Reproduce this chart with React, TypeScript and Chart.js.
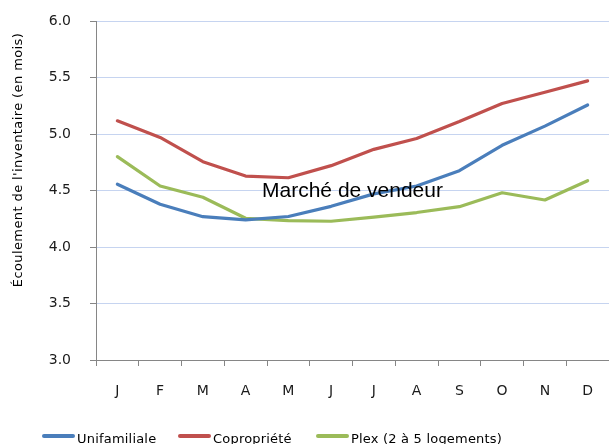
import React, { useEffect, useRef } from "react";
import { Chart, registerables } from "chart.js";

Chart.register(...registerables);

const months = ["J", "F", "M", "A", "M", "J", "J", "A", "S", "O", "N", "D"];
const unifamiliale = [4.555, 4.378, 4.268, 4.24, 4.27, 4.36, 4.47, 4.54, 4.675, 4.9, 5.07, 5.257];
const copropriete = [5.117, 4.97, 4.755, 4.628, 4.613, 4.72, 4.864, 4.96, 5.11, 5.27, 5.37, 5.47];
const plex = [4.8, 4.54, 4.44, 4.254, 4.233, 4.228, 4.265, 4.305, 4.357, 4.48, 4.416, 4.587];
const seriesNames = ["Unifamiliale", "Copropriété", "Plex (2 à 5 logements)"];
const seriesColors = ["#4a7ebb", "#c0504d", "#9bbb59"];
const yTicks = [3.0, 3.5, 4.0, 4.5, 5.0, 5.5, 6.0];
const annotationText = "Marché de vendeur";
const yTitle = "Écoulement de l'inventaire (en mois)";

const overlayPlugin = {
  id: "overlay",
  afterDraw(chart: any) {
    const ctx = chart.ctx as CanvasRenderingContext2D;
    const xs = chart.scales.x;
    const ys = chart.scales.y;
    // annotation
    ctx.save();
    ctx.font = "21px 'Liberation Sans', Arial, sans-serif";
    ctx.fillStyle = "#000";
    ctx.textAlign = "center";
    ctx.textBaseline = "alphabetic";
    ctx.fillText(annotationText, xs.getPixelForValue(5.5), ys.getPixelForValue(4.44));
    ctx.restore();

    // y title
    ctx.save();
    ctx.font = "13px 'DejaVu Sans', sans-serif";
    (ctx as any).letterSpacing = "0.4px";
    ctx.fillStyle = "#000";
    ctx.translate(19, 160);
    ctx.rotate(-Math.PI / 2);
    ctx.textAlign = "center";
    ctx.textBaseline = "middle";
    ctx.fillText(yTitle, 0, 0);
    ctx.restore();

    // legend
    const legendX = [42, 178, 316];
    ctx.save();
    ctx.font = "13px 'DejaVu Sans', sans-serif";
    (ctx as any).letterSpacing = "0.2px";
    ctx.textBaseline = "alphabetic";
    ctx.textAlign = "left";
    chart.data.datasets.forEach((ds: any, i: number) => {
      const x0 = legendX[i];
      ctx.strokeStyle = ds.borderColor;
      ctx.lineWidth = 4;
      ctx.lineCap = "round";
      ctx.beginPath();
      ctx.moveTo(x0 + 2, 436);
      ctx.lineTo(x0 + 31, 436);
      ctx.stroke();
      ctx.fillStyle = "#000";
      ctx.fillText(ds.label, x0 + 35, 443);
    });
    ctx.restore();
  },
};

export default function App() {
  const canvasRef = useRef<HTMLCanvasElement | null>(null);

  useEffect(() => {
    if (!canvasRef.current) return;
    const mk = (i: number, data: number[]) => ({
      label: seriesNames[i],
      data,
      borderColor: seriesColors[i],
      backgroundColor: seriesColors[i],
      borderWidth: 3.2,
      pointRadius: 0,
      tension: 0,
      borderJoinStyle: "round" as const,
      borderCapStyle: "round" as const,
      fill: false,
    });
    const chart = new Chart(canvasRef.current, {
      type: "line",
      data: {
        labels: months,
        datasets: [mk(0, unifamiliale), mk(1, copropriete), mk(2, plex)],
      },
      plugins: [overlayPlugin],
      options: {
        animation: false,
        responsive: false,
        devicePixelRatio: 1,
        layout: { padding: { top: 21, left: 0, right: 0, bottom: 0 } },
        plugins: {
          legend: { display: false },
          tooltip: { enabled: false },
          title: { display: false },
        },
        scales: {
          x: {
            type: "category",
            offset: true,
            grid: {
              offset: true,
              drawOnChartArea: false,
              drawTicks: true,
              tickLength: 6,
              color: "#868686",
              tickColor: "#868686",
            },
            border: { display: true, color: "#868686", width: 1 },
            ticks: {
              color: "#1a1a1a",
              font: { family: "'DejaVu Sans', sans-serif", size: 14 },
              padding: 17,
              maxRotation: 0,
              autoSkip: false,
            },
            afterFit: (scale: any) => {
              scale.height = 84;
              scale.paddingLeft = 0;
              scale.paddingRight = 0;
            },
          },
          y: {
            type: "linear",
            min: 3,
            max: 6,
            afterBuildTicks: (scale: any) => {
              scale.ticks = yTicks.map((v) => ({ value: v }));
            },
            grid: {
              color: "#c6d4f0",
              tickColor: "#868686",
              tickLength: 6,
              lineWidth: 1,
            },
            border: { display: true, color: "#868686", width: 1 },
            ticks: {
              color: "#1a1a1a",
              font: { family: "'DejaVu Sans', sans-serif", size: 14 },
              padding: 19,
              callback: (v: any) => Number(v).toFixed(1),
            },
            afterFit: (scale: any) => {
              scale.width = 96;
              scale.paddingTop = 0;
              scale.paddingBottom = 0;
            },
          },
        },
      },
    });
    return () => chart.destroy();
  }, []);

  return (
    <div style={{ position: "fixed", left: 0, top: 0, width: 609, height: 444, background: "#fff" }}>
      <canvas ref={canvasRef} width={609} height={444} style={{ width: 609, height: 444, display: "block" }} />
    </div>
  );
}
